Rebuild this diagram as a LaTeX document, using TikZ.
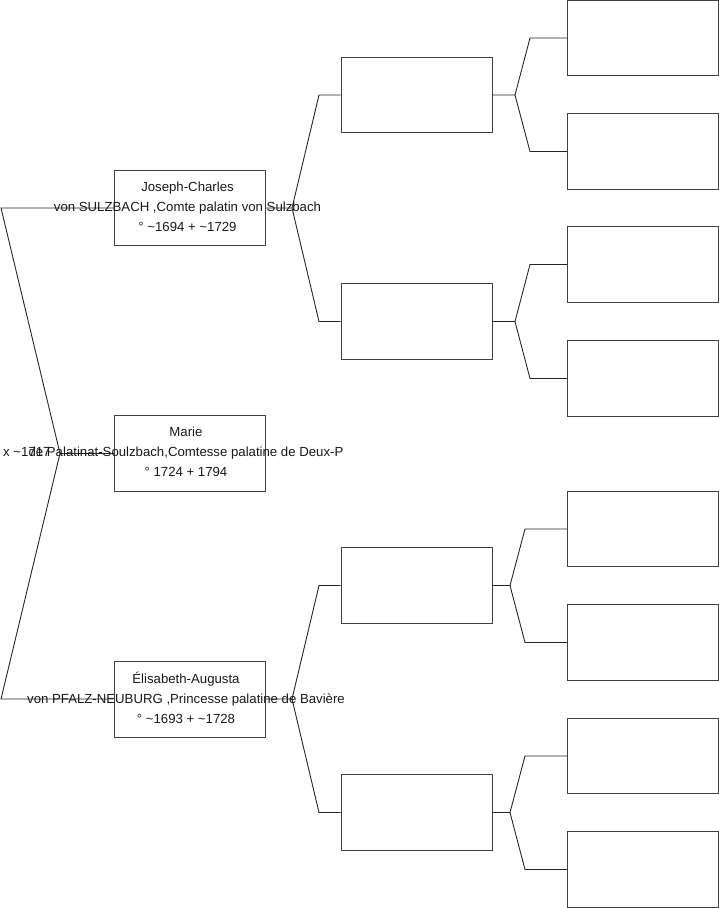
\documentclass[tikz,border=0pt]{standalone}
\usepackage{fontspec}
\setmainfont{Liberation Sans}
\begin{document}
\begin{tikzpicture}[x=1pt,y=-1pt,
  person/.style={draw=black!75,line width=0.9pt,minimum width=151pt,minimum height=75.5pt,inner sep=0pt,fill=none},
  txt/.style={align=center,font=\fontsize{13.2}{20}\selectfont,inner sep=0pt,text=black!90},
  conn/.style={draw=black!85,line width=0.9pt}]
\useasboundingbox (0,0) rectangle (719,908);
% generation 1
\node[person] (j) at (189.5,208) {};
\node[person] (m) at (189.5,453.5) {};
\node[person] (e) at (189.5,699.5) {};
% generation 2
\node[person] (a) at (416.5,95) {};
\node[person] (b) at (416.5,321.5) {};
\node[person] (c) at (416.5,585.5) {};
\node[person] (d) at (416.5,812.5) {};
% generation 3
\node[person] (a1) at (643,38) {};
\node[person] (a2) at (643,151.5) {};
\node[person] (b1) at (643,264.5) {};
\node[person] (b2) at (643,378.5) {};
\node[person] (c1) at (643,529) {};
\node[person] (c2) at (643,642.5) {};
\node[person] (d1) at (643,756) {};
\node[person] (d2) at (643,869.5) {};
% fork coordinates
\coordinate (l1) at (1,208);
\coordinate (lm) at (60,453.5);
\coordinate (l2) at (1,699);
\coordinate (jf) at (292,208);
\coordinate (jf1) at (319,95);
\coordinate (jf2) at (319,321.5);
\coordinate (ef) at (292,699);
\coordinate (ef1) at (319,585.5);
\coordinate (ef2) at (319,812.5);
\coordinate (af) at (515,95);
\coordinate (af1) at (530,38);
\coordinate (af2) at (530,151.5);
\coordinate (bf) at (515,321.5);
\coordinate (bf1) at (530,264.5);
\coordinate (bf2) at (530,378.5);
\coordinate (cf) at (510,585.5);
\coordinate (cf1) at (525,529);
\coordinate (cf2) at (525,642.5);
\coordinate (df) at (510,812.5);
\coordinate (df1) at (525,756);
\coordinate (df2) at (525,869.5);
% connectors
\draw[conn] (j.west |- l1) -- (l1) -- (lm) -- (l2) -- (e.west |- l2);
\draw[conn] (lm) -- (m.west |- lm);
\draw[conn] (j.east |- jf) -- (jf) -- (jf1) -- (a.west |- jf1);
\draw[conn] (jf) -- (jf2) -- (b.west |- jf2);
\draw[conn] (e.east |- ef) -- (ef) -- (ef1) -- (c.west |- ef1);
\draw[conn] (ef) -- (ef2) -- (d.west |- ef2);
\draw[conn] (a.east) -- (af) -- (af1) -- (a1.west);
\draw[conn] (af) -- (af2) -- (a2.west);
\draw[conn] (b.east) -- (bf) -- (bf1) -- (b1.west);
\draw[conn] (bf) -- (bf2) -- (b2.west);
\draw[conn] (c.east) -- (cf) -- (cf1) -- (c1.west);
\draw[conn] (cf) -- (cf2) -- (c2.west);
\draw[conn] (d.east) -- (df) -- (df1) -- (d1.west);
\draw[conn] (df) -- (df2) -- (d2.west);
% texts
\node[txt] (jt) at (187.5,206.5) {Joseph-Charles\\von SULZBACH ,Comte palatin von Sulzbach\\° \textasciitilde1694 + \textasciitilde1729};
\node[txt] (mt) at (186,452) {Marie\\de Palatinat-Soulzbach,Comtesse palatine de Deux-P\\° 1724 + 1794};
\node[txt] (et) at (186,697.5) {Élisabeth-Augusta\\von PFALZ-NEUBURG ,Princesse palatine de Bavière\\° \textasciitilde1693 + \textasciitilde1728};
\node[txt,anchor=west] (x) at (3,452) {x \textasciitilde1717};
\end{tikzpicture}
\end{document}
